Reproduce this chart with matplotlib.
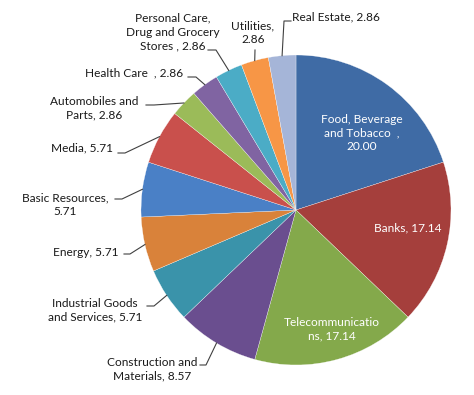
import matplotlib.pyplot as plt
import numpy as np

sectors = ['Food, Beverage and Tobacco', 'Banks', 'Telecommunications',
           'Construction and Materials', 'Industrial Goods and Services',
           'Energy', 'Basic Resources', 'Media', 'Automobiles and Parts',
           'Health Care', 'Personal Care, Drug and Grocery Stores',
           'Utilities', 'Real Estate']
weights = [20.00, 17.14, 17.14, 8.57, 5.71, 5.71, 5.71, 5.71,
           2.86, 2.86, 2.86, 2.86, 2.86]
# labels as excel wrapped them
labels = ['Food, Beverage\nand Tobacco  ,\n20.00', 'Banks, 17.14',
          'Telecommunicatio\nns, 17.14', 'Construction and\nMaterials, 8.57',
          'Industrial Goods\nand Services, 5.71', 'Energy, 5.71',
          'Basic Resources,\n5.71', 'Media, 5.71', 'Automobiles and\nParts, 2.86',
          'Health Care  , 2.86', 'Personal Care,\nDrug and Grocery\nStores , 2.86',
          'Utilities,\n2.86', 'Real Estate, 2.86']
colors = ['#3F6BA5', '#A53F3C', '#84A94B', '#6A4E8F', '#3A93AA', '#D9823A',
          '#4A80C6', '#C9504C', '#9BBB59', '#8064A2', '#4BACC6', '#F79646',
          '#A5B5D8']

W, H = 474, 395
cx, cy, R = 296, 210, 155

# label layout in pixel coords (y from top)
txt_pos = [(362, 133, 'center'), (408, 228, 'center'), (332, 329, 'center'),
           (152, 369, 'center'), (95, 310, 'center'), (119, 252, 'right'),
           (65, 205, 'center'), (113, 148, 'right'), (94, 108, 'center'),
           (183, 73, 'right'), (173, 32, 'center'), (253, 33, 'center'),
           (292, 17, 'left')]
# leader start (x, y) and horizontal knee offset; None for inside labels
leaders = [None, None, None, (200, 365, 6), (147, 306, 7), (124, 254, 6),
           (115, 199, 7), (118, 153, 7), (146, 105, 8), (188, 77, 8),
           (208, 50, 8), (255, 50, 0), (291, 21, -7)]

fig = plt.figure(figsize=(W / 100, H / 100), dpi=100)
ax = fig.add_axes([0, 0, 1, 1])
ax.set_xlim(0, W)
ax.set_ylim(0, H)
ax.set_aspect('equal')
ax.axis('off')

wedges, _ = ax.pie(weights, colors=colors, startangle=90, counterclock=False,
                   center=(cx, H - cy), radius=R,
                   wedgeprops=dict(edgecolor='white', linewidth=0.2))
ax.set_xlim(0, W)
ax.set_ylim(0, H)

for i, w in enumerate(wedges):
    x, y, ha = txt_pos[i]
    inside = leaders[i] is None
    ax.text(x, H - y, labels[i], ha=ha, va='center', multialignment='center',
            fontsize=8.6, family='Lato', color='white' if inside else '#1a1a1a',
            linespacing=1.32)
    if not inside:
        lx, ly, dx = leaders[i]
        ang = np.deg2rad((w.theta1 + w.theta2) / 2)
        ex = cx + R * np.cos(ang)
        ey = H - cy + R * np.sin(ang)
        ax.plot([lx, lx + dx, ex], [H - ly, H - ly, ey], color='#404040', lw=0.8)

fig.savefig('out.png', dpi=100)
